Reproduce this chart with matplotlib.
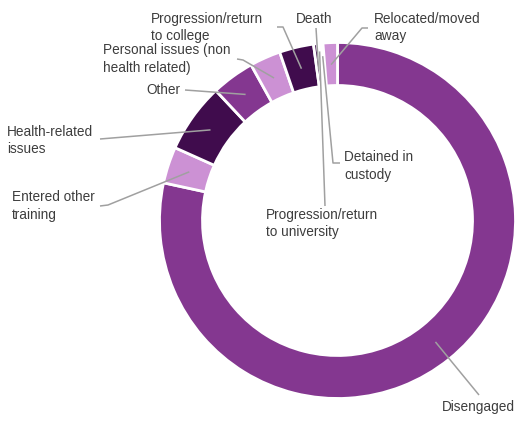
import numpy as np
import matplotlib
matplotlib.use("Agg")
import matplotlib.pyplot as plt

# ---- data (clockwise from 12 o'clock) ----
categories = ["Disengaged", "Entered other\ntraining", "Health-related\nissues", "Other",
              "Personal issues (non\nhealth related)", "Progression/return\nto college",
              "Death", "Progression/return\nto university", "Detained in\ncustody",
              "Relocated/moved\naway"]
values = [78.2, 3.3, 6.3, 3.9, 2.8, 3.1, 0.35, 0.25, 0.25, 1.3]

MID, LIGHT, DARK = "#843790", "#CC91D4", "#400C4D"
colors = [MID, LIGHT, DARK, MID, LIGHT, DARK, DARK, MID, LIGHT, LIGHT]

W, H = 527, 426
fig = plt.figure(figsize=(W / 100, H / 100), dpi=100)
ax = fig.add_axes([0, 0, 1, 1])

cx, cy, R, RW = 337.5, H - 220.5, 178, 43
wedges, _ = ax.pie(values, colors=colors, radius=R, center=(cx, cy), startangle=90,
                   counterclock=False,
                   wedgeprops=dict(width=RW, edgecolor="white", linewidth=2))
ax.set_xlim(0, W)
ax.set_ylim(0, H)
ax.set_aspect("equal")
ax.axis("off")

# label layout: (text x, text center y, anchor radius, path points after anchor)
layout = {
    0: (442, 407, 156, [(479, 395)]),
    1: (12, 206, 156, [(108, 205), (100, 206)]),
    2: (7, 140.5, 156, [(100, 139)]),
    3: (146, 90, 156, [(185, 90)]),
    4: (103, 59, 156, [(243, 60), (237, 59)]),
    5: (151, 27.5, 156, [(283, 27), (277, 27)]),
    6: (296, 19, 152, [(316, 28)]),
    7: (266, 223.5, 170, [(325, 206)]),
    8: (344, 166, 165, [(333, 163), (340, 163)]),
    9: (374, 27.5, 156, [(362, 28), (368, 28)]),
}

txt_color = "#3D3D3D"
line_color = "#A0A0A0"
for i, w in enumerate(wedges):
    tx, ty, ar, pts = layout[i]
    ang = np.deg2rad((w.theta1 + w.theta2) / 2)
    ax_x = cx + ar * np.cos(ang)
    ax_y = cy + ar * np.sin(ang)
    xs = [ax_x] + [p[0] for p in pts]
    ys = [ax_y] + [H - p[1] for p in pts]
    ax.plot(xs, ys, color=line_color, lw=1.1, solid_capstyle="butt", zorder=5)
    ax.text(tx, H - ty, categories[i], ha="left", va="center", fontsize=9.8,
            family="Liberation Sans", color=txt_color, linespacing=1.28)

fig.savefig("out.png", dpi=100)
